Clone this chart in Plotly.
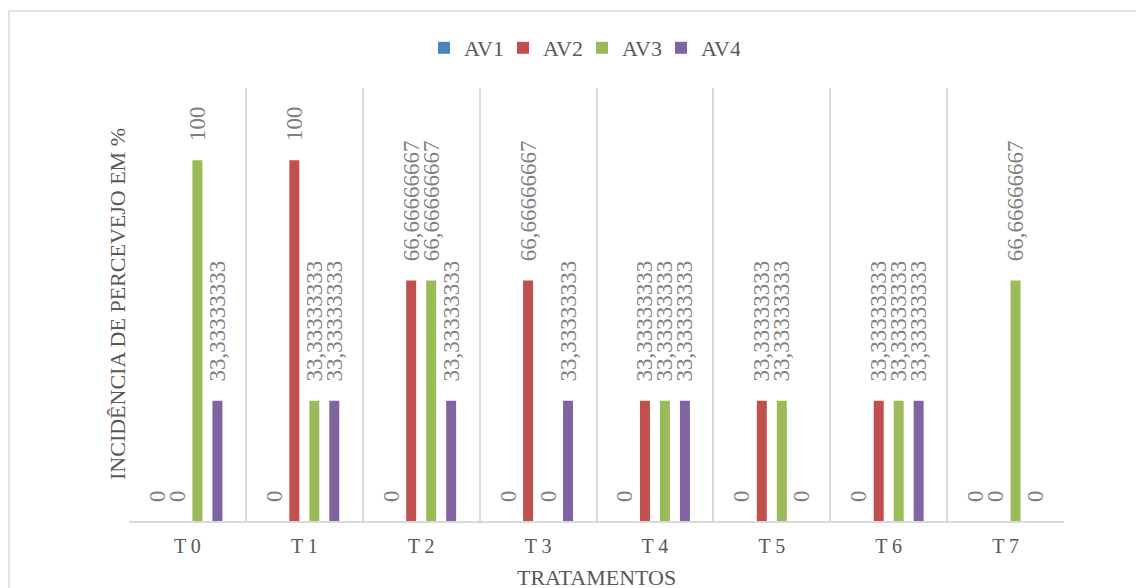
import plotly.graph_objects as go

categories = ["T 0", "T 1", "T 2", "T 3", "T 4", "T 5", "T 6", "T 7"]
series_names = ["AV1", "AV2", "AV3", "AV4"]
av1 = [0, 0, 0, 0, 0, 0, 0, 0]
av2 = [0, 100, 66.66666667, 66.66666667, 33.33333333, 33.33333333, 33.33333333, 0]
av3 = [100, 33.33333333, 66.66666667, 0, 33.33333333, 33.33333333, 33.33333333, 66.66666667]
av4 = [33.33333333, 33.33333333, 33.33333333, 33.33333333, 33.33333333, 0, 33.33333333, 0]
colors = ["#4F81BD", "#C0504D", "#9BBB59", "#8064A2"]

FONT = "Liberation Serif"
PAD = "\u00a0\u00a0\u2009"

# page offset of the plot div inside the browser page (default body margin)
OFF = 8
L, T, R, B = 129 - OFF, 88 - OFF, 1064 - OFF, 521 - OFF
W, H = 1144, 588
PW, PH = R - L, B - T


def px_x(x):
    return (x - OFF - L) / PW


def px_y(y):
    return (B - (y - OFF)) / PH


def fmt(v):
    return PAD + f"{v:.10g}".replace(".", ",")


fig = go.Figure()
for name, vals, col in zip(series_names, [av1, av2, av3, av4], colors):
    fig.add_trace(go.Bar(
        x=categories, y=vals, name=name,
        marker=dict(color=col, line=dict(width=0)),
        text=[fmt(v) for v in vals],
        textposition="outside", textangle=-90,
        constraintext="none", cliponaxis=False,
        textfont=dict(family=FONT, size=23, color="#808080"),
    ))

fig.update_layout(
    width=W, height=H,
    margin=dict(l=L, r=W - R, t=T, b=H - B, autoexpand=False),
    paper_bgcolor="white", plot_bgcolor="white",
    barmode="group", bargap=0.316, bargroupgap=0.5,
    font=dict(family=FONT, color="#595959"),
    showlegend=True,
    legend=dict(orientation="h", x=px_x(424), xanchor="left", y=px_y(48), yanchor="middle",
                entrywidth=34, entrywidthmode="pixels",
                font=dict(family=FONT, size=22, color="#595959"), traceorder="normal"),
    xaxis=dict(
        type="category", tickson="boundaries", showgrid=True,
        gridcolor="#d9d9d9", gridwidth=1.5,
        showline=True, linecolor="#d9d9d9", linewidth=1.5,
        ticks="", ticklabelstandoff=6, automargin=False,
        tickfont=dict(family=FONT, size=20, color="#595959"),
    ),
    yaxis=dict(
        range=[0, 120], showgrid=False, zeroline=False, showline=False,
        showticklabels=False, ticks="", automargin=False,
    ),
    annotations=[
        dict(text="TRATAMENTOS", xref="paper", yref="paper", x=px_x(596), y=px_y(577),
             xanchor="center", yanchor="middle", showarrow=False,
             font=dict(family=FONT, size=22, color="#595959")),
        dict(text="INCIDÊNCIA DE PERCEVEJO EM %", xref="paper", yref="paper", x=px_x(117), y=px_y(304),
             xanchor="center", yanchor="middle", textangle=-90, showarrow=False,
             font=dict(family=FONT, size=22, color="#595959")),
    ],
    shapes=[dict(type="rect", xref="paper", yref="paper",
                 x0=px_x(9), x1=px_x(1170),
                 y0=px_y(640), y1=px_y(11),
                 line=dict(color="#d9d9d9", width=1.5), fillcolor="rgba(0,0,0,0)", layer="below")],
)

fig.write_html("out.html")
